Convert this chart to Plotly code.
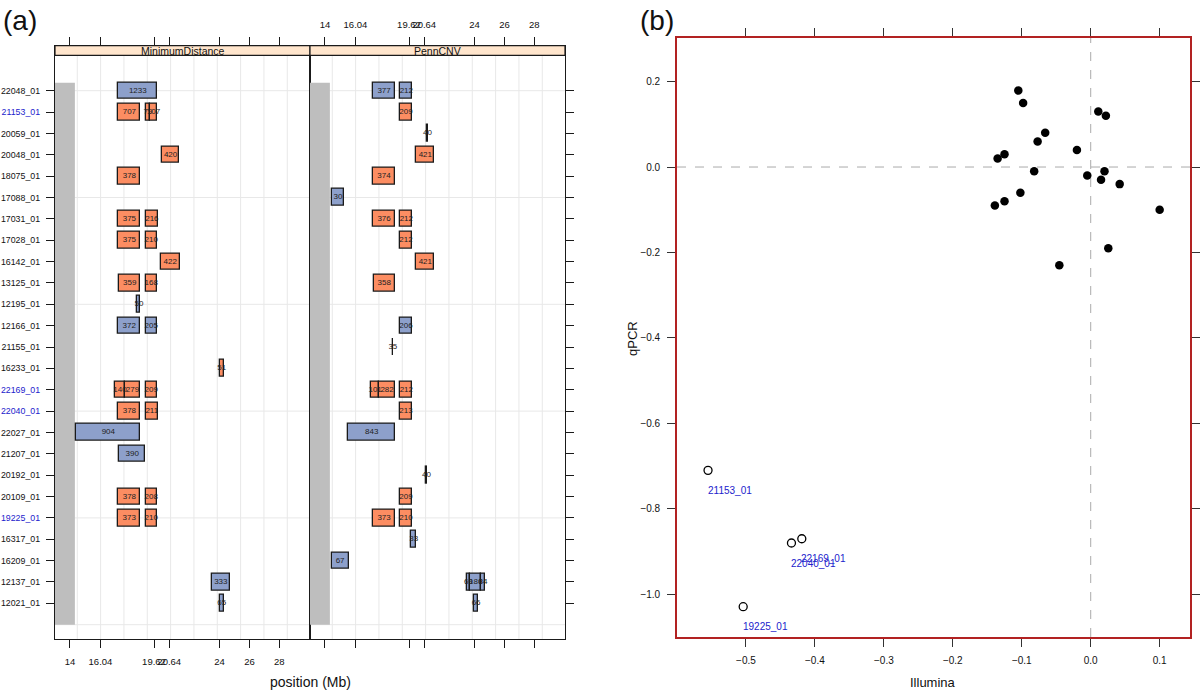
import plotly.graph_objects as go

# ---------------- data ----------------
samples = ["22048_01", "21153_01", "20059_01", "20048_01", "18075_01", "17088_01",
           "17031_01", "17028_01", "16142_01", "13125_01", "12195_01", "12166_01",
           "21155_01", "16233_01", "22169_01", "22040_01", "22027_01", "21207_01",
           "20192_01", "20109_01", "19225_01", "16317_01", "16209_01", "12137_01",
           "12021_01"]
highlighted = ["21153_01", "22169_01", "22040_01", "19225_01"]

# MinimumDistance segments
md_sample = ["22048_01", "21153_01", "21153_01", "21153_01", "20048_01", "18075_01",
             "17031_01", "17031_01", "17028_01", "17028_01", "16142_01", "13125_01",
             "13125_01", "12195_01", "12166_01", "12166_01", "16233_01", "22169_01",
             "22169_01", "22169_01", "22040_01", "22040_01", "22027_01", "21207_01",
             "20109_01", "20109_01", "19225_01", "19225_01", "12137_01", "12021_01"]
md_start = [17.24, 17.24, 19.07, 19.38, 20.14, 17.24,
            17.24, 19.07, 17.24, 19.07, 20.07, 17.30,
            19.07, 18.51, 17.24, 19.07, 24.03, 17.01,
            17.68, 19.07, 17.24, 19.07, 14.42, 17.30,
            17.24, 19.07, 17.24, 19.07, 23.51, 24.00]
md_end = [19.83, 18.71, 19.36, 19.80, 21.32, 18.71,
          18.71, 19.89, 18.71, 19.80, 21.34, 18.69,
          19.80, 18.71, 18.69, 19.80, 24.27, 17.68,
          18.69, 19.80, 18.71, 19.87, 18.71, 19.02,
          18.71, 19.80, 18.69, 19.80, 24.67, 24.30]
md_type = ["loss", "gain", "gain", "gain", "gain", "gain",
           "gain", "gain", "gain", "gain", "gain", "gain",
           "gain", "loss", "loss", "loss", "gain", "gain",
           "gain", "gain", "gain", "gain", "loss", "loss",
           "gain", "gain", "gain", "gain", "loss", "loss"]
md_label = ["1233", "707", "79", "107", "420", "378",
            "375", "216", "375", "210", "422", "359",
            "168", "50", "372", "205", "51", "140",
            "279", "209", "378", "211", "904", "390",
            "378", "208", "373", "210", "333", "65"]

# PennCNV segments
pc_sample = ["22048_01", "22048_01", "21153_01", "20059_01", "20048_01", "18075_01",
             "17088_01", "17031_01", "17031_01", "17028_01", "16142_01", "13125_01",
             "12166_01", "21155_01", "22169_01", "22169_01", "22169_01", "22040_01",
             "22027_01", "20192_01", "20109_01", "19225_01", "19225_01", "16317_01",
             "16209_01", "12137_01", "12137_01", "12137_01", "12021_01"]
pc_start = [17.22, 19.03, 19.03, 20.84, 20.10, 17.22,
            14.45, 17.22, 19.03, 19.03, 20.10, 17.26,
            19.03, 18.52, 17.09, 17.62, 19.03, 19.03,
            15.56, 20.77, 19.03, 17.22, 19.03, 19.76,
            14.45, 23.48, 23.72, 24.45, 23.95]
pc_end = [18.69, 19.85, 19.81, 20.88, 21.32, 18.67,
          15.29, 18.69, 19.85, 19.81, 21.32, 18.67,
          19.81, 18.56, 17.62, 18.69, 19.85, 19.81,
          18.69, 20.81, 19.81, 18.69, 19.81, 20.10,
          15.58, 23.72, 24.45, 24.68, 24.26]
pc_type = ["loss", "loss", "gain", "loss", "gain", "gain",
           "loss", "gain", "gain", "gain", "gain", "gain",
           "loss", "loss", "gain", "gain", "gain", "gain",
           "loss", "loss", "gain", "gain", "gain", "loss",
           "loss", "loss", "loss", "loss", "loss"]
pc_label = ["377", "212", "209", "40", "421", "374",
            "30", "376", "212", "212", "421", "358",
            "206", "35", "101", "282", "212", "213",
            "843", "40", "209", "373", "210", "33",
            "67", "69", "180", "84", "66"]

facet_names = ["MinimumDistance", "PennCNV"]
pos_ticks = [14, 16.04, 19.62, 20.64, 24, 26, 28]
pos_ticktext = ["14", "16.04", "19.62", "20.64", "24", "26", "28"]
centromere = [13.0, 14.33]

# Panel (b) scatter
illumina = [-0.105, -0.098, 0.011, 0.022, -0.066, -0.077, -0.020, -0.125, -0.135, -0.082,
            0.020, -0.005, 0.015, 0.042, -0.102, -0.125, -0.139, 0.100, 0.0255, -0.0455]
qpcr = [0.179, 0.150, 0.130, 0.120, 0.080, 0.060, 0.040, 0.030, 0.020, -0.010,
        -0.010, -0.020, -0.030, -0.040, -0.060, -0.080, -0.090, -0.100, -0.190, -0.230]
out_names = ["21153_01", "22169_01", "22040_01", "19225_01"]
out_illumina = [-0.555, -0.419, -0.434, -0.504]
out_qpcr = [-0.710, -0.870, -0.880, -1.029]

# ---------------- styling ----------------
W, H = 1200, 691
FONT = "Liberation Sans, Arial, Helvetica, sans-serif"
col = {"loss": "#8DA0CB", "gain": "#FC8D62"}
blue_txt = "#2222CC"
row_of = {s: i + 1 for i, s in enumerate(samples)}

def py(px):
    return 1 - px / H

def pxx(px):
    return px / W

a_top, a_bot = 45.7, 639.0
strip_h = 9.6
facet_dom = [[pxx(55), pxx(310)], [pxx(310), pxx(565)]]
yr = [26.67, -1.107]
xr = [13.0, 30.05]

fig = go.Figure()
shapes = []
annotations = []

for k, (names, st, en, tp, lb) in enumerate([
        (md_sample, md_start, md_end, md_type, md_label),
        (pc_sample, pc_start, pc_end, pc_type, pc_label)]):
    xa = "x" if k == 0 else "x2"
    ya = "y" if k == 0 else "y2"
    rows = [row_of[s] for s in names]
    fig.add_trace(go.Bar(
        orientation="h", y=rows, x=[e - s for s, e in zip(st, en)], base=st,
        width=0.78, marker=dict(color=[col[t] for t in tp],
                                line=dict(color="#1a1a1a", width=1.3)),
        xaxis=xa, yaxis=ya, showlegend=False, hoverinfo="skip"))
    fig.add_trace(go.Scatter(
        x=[(s + e) / 2 for s, e in zip(st, en)], y=rows, mode="text", text=lb,
        textfont=dict(size=8, color="#222222", family=FONT),
        xaxis=xa, yaxis=ya, showlegend=False, hoverinfo="skip"))

    # grid lines
    for i in range(10):
        gx = 14.49 + 1.56 * i
        shapes.append(dict(type="line", xref=xa, yref=ya + " domain", x0=gx, x1=gx,
                           y0=0, y1=1, line=dict(color="#E8E8E8", width=1), layer="below"))
    for r in range(1, 27, 5):
        shapes.append(dict(type="line", xref=xa + " domain", yref=ya, x0=0, x1=1,
                           y0=r, y1=r, line=dict(color="#E8E8E8", width=1), layer="below"))
    # centromere
    shapes.append(dict(type="rect", xref=xa, yref=ya, x0=centromere[0], x1=centromere[1],
                       y0=0.625, y1=26, fillcolor="#BEBEBE", line=dict(width=0),
                       layer="below"))
    # strip
    shapes.append(dict(type="rect", xref="paper", yref="paper",
                       x0=facet_dom[k][0], x1=facet_dom[k][1],
                       y0=py(a_top + strip_h), y1=py(a_top),
                       fillcolor="#FFE5CC", line=dict(color="#1a1a1a", width=1.2),
                       layer="above"))
    annotations.append(dict(text=facet_names[k], xref="paper", yref="paper",
                            x=sum(facet_dom[k]) / 2, y=py(a_top + strip_h / 2),
                            showarrow=False, font=dict(size=10.5, family=FONT, color="#111"),
                            xanchor="center", yanchor="middle"))

# panel (b)
fig.add_trace(go.Scatter(x=illumina, y=qpcr, mode="markers",
                         marker=dict(size=8.5, color="black"),
                         xaxis="x3", yaxis="y3", showlegend=False, hoverinfo="skip"))
fig.add_trace(go.Scatter(x=out_illumina, y=out_qpcr, mode="markers",
                         marker=dict(size=8, color="white",
                                     line=dict(color="black", width=1.3)),
                         xaxis="x3", yaxis="y3", showlegend=False, hoverinfo="skip"))
for nm, xv, yv in zip(out_names, out_illumina, out_qpcr):
    annotations.append(dict(text=nm, xref="x3", yref="y3", x=xv, y=yv, xshift=22,
                            yshift=-20, showarrow=False, xanchor="center",
                            yanchor="middle",
                            font=dict(size=10, color=blue_txt, family=FONT)))
shapes.append(dict(type="line", xref="x3", yref="y3 domain", x0=0, x1=0, y0=0, y1=1,
                   line=dict(color="#AAAAAA", width=1, dash="dash"), layer="below"))
shapes.append(dict(type="line", xref="x3 domain", yref="y3", x0=0, x1=1, y0=0, y1=0,
                   line=dict(color="#AAAAAA", width=1, dash="dash"), layer="below"))

tickfont = dict(size=9.5, family=FONT, color="#111")
ytickfont = dict(size=8.8, family=FONT, color="#111")
btickfont = dict(size=10, family=FONT, color="#111")
ytext = [f'<span style="color:{blue_txt}">{s}</span>' if s in highlighted else s
         for s in samples]

common_x = dict(range=xr, tickvals=pos_ticks, ticktext=pos_ticktext, ticks="outside",
                ticklen=8, tickwidth=1.2, tickcolor="#1a1a1a", showline=True,
                linecolor="#1a1a1a", linewidth=1.3, mirror="ticks", showgrid=False,
                zeroline=False, tickfont=tickfont, ticklabelstandoff=5, tickangle=0,
                automargin=False)
common_y = dict(range=yr, tickvals=list(range(1, 26)), ticks="outside", ticklen=8,
                tickwidth=1.2, tickcolor="#1a1a1a", showline=True, linecolor="#1a1a1a",
                linewidth=1.3, showgrid=False, zeroline=False, automargin=False,
                domain=[py(a_bot), py(a_top)])

layout = dict(
    width=W, height=H, margin=dict(l=0, r=0, t=0, b=0, autoexpand=False),
    paper_bgcolor="white", plot_bgcolor="white", bargap=0, barmode="overlay",
    xaxis=dict(common_x, domain=facet_dom[0], anchor="y", side="bottom"),
    xaxis2=dict(common_x, domain=facet_dom[1], anchor="y2", side="top"),
    yaxis=dict(common_y, anchor="x", side="left", ticktext=ytext, tickfont=ytickfont,
               mirror=True, ticklabelstandoff=4),
    yaxis2=dict(common_y, anchor="x2", side="right", showticklabels=False, mirror=True,
                matches="y"),
    xaxis3=dict(domain=[pxx(677), pxx(1190)], anchor="y3", range=[-0.6, 0.144],
                tickvals=[-0.5, -0.4, -0.3, -0.2, -0.1, 0.0, 0.1],
                ticktext=["\u22120.5", "\u22120.4", "\u22120.3", "\u22120.2", "\u22120.1", "0.0", "0.1"],
                ticks="outside", ticklen=8, tickwidth=1.2, tickcolor="#333",
                showline=True, linecolor="#B22222", linewidth=1.6, mirror="ticks",
                showgrid=False, zeroline=False, tickfont=btickfont, ticklabelstandoff=5,
                tickangle=0, automargin=False),
    yaxis3=dict(domain=[py(637), py(38)], anchor="x3", range=[-1.1, 0.302],
                tickvals=[-1.0, -0.8, -0.6, -0.4, -0.2, 0.0, 0.2],
                ticktext=["\u22121.0", "\u22120.8", "\u22120.6", "\u22120.4", "\u22120.2", "0.0", "0.2"],
                ticks="outside", ticklen=8, tickwidth=1.2, tickcolor="#333",
                showline=True, linecolor="#B22222", linewidth=1.6, mirror="ticks",
                showgrid=False, zeroline=False, tickfont=btickfont, ticklabelstandoff=5,
                automargin=False),
    shapes=shapes,
)

def ann(text, x, y, size, **kw):
    d = dict(text=text, xref="paper", yref="paper", x=pxx(x), y=py(y), showarrow=False,
             xanchor="center", yanchor="middle",
             font=dict(size=size, family=FONT, color="#111"))
    d.update(kw)
    return d

annotations += [
    ann("position (Mb)", 310, 682, 14),
    ann("Illumina", 933, 682, 13),
    ann("qPCR", 632, 338, 13, textangle=-90),
    ann("(a)", 20, 20, 28),
    ann("(b)", 657, 20, 28),
]
layout["annotations"] = annotations
fig.update_layout(layout)
fig.write_html("out.html", config={"displayModeBar": False},
               post_script="document.body.style.margin='0px';")
